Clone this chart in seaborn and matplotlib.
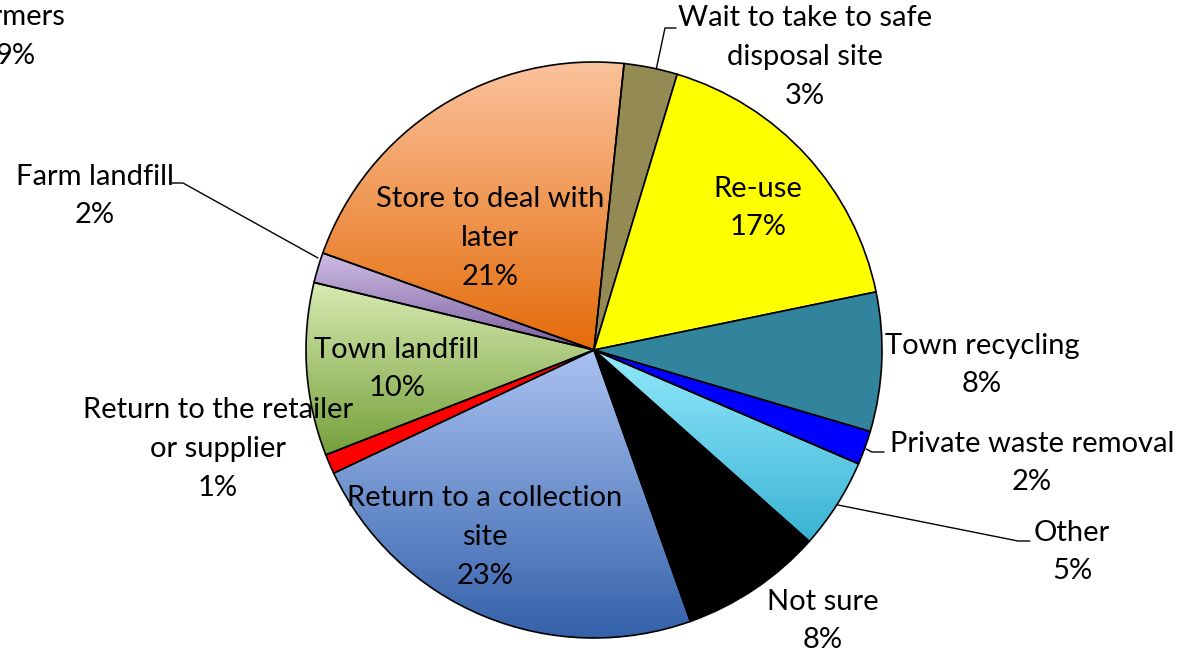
import numpy as np
import matplotlib.pyplot as plt
import seaborn as sns
from matplotlib.colors import LinearSegmentedColormap

sns.set_theme(style="white")
plt.rcParams['font.family'] = ['Lato', 'DejaVu Sans']

# --- data, clockwise from 12 o'clock ---
categories = ["Wait to take to safe\ndisposal site", "Re-use", "Town recycling",
              "Private waste removal", "Other", "Not sure",
              "Return to a collection\nsite", "Return to the retailer\nor supplier",
              "Town landfill", "Farm landfill", "Store to deal with\nlater"]
values = [3.0, 17.1, 7.8, 1.9, 5.1, 8.0, 23.4, 1.1, 9.7, 1.7, 21.2]
cut_label = "Give to other\nfarmers"   # label cut off at the top-left edge
cut_pct = "9%"

# colours: flat fill, or (top, bottom) gradient
fills = ["#948A54", "#FFFF00", "#31849B", "#0000FF", ("#93E9FB", "#3AB3D5"),
         "#000000", ("#AAC2F1", "#3461AA"), "#FF0000", ("#D8EAB2", "#74A03A"),
         ("#CFBDE4", "#7A5E9E"), ("#FBC29C", "#E46C0A")]

W, H = 1177, 653
CX, CY, R = 594, 350, 288
START = 84  # first wedge starts a bit right of 12 o'clock


def py(y):
    # pixel row -> data y (y axis points up)
    return H - y


fig = plt.figure(figsize=(W / 100, H / 100), dpi=100)
ax = fig.add_axes([0, 0, 1, 1])

wedges, _ = ax.pie(values, startangle=START, counterclock=False,
                   center=(CX, py(CY)), radius=R, frame=True,
                   wedgeprops=dict(edgecolor="black", linewidth=1.2))

for w, f in zip(wedges, fills):
    w.set_zorder(3)
    if isinstance(f, tuple):
        w.set_facecolor("none")
        ext = w.get_path().get_extents()
        cmap = LinearSegmentedColormap.from_list("g", [f[1], f[0]])
        grad = np.linspace(0, 1, 256).reshape(-1, 1)
        im = ax.imshow(grad, cmap=cmap, aspect="auto", origin="lower",
                       extent=[ext.x0, ext.x1, ext.y0, ext.y1], zorder=2)
        im.set_clip_path(w)
    else:
        w.set_facecolor(f)

ax.set_xlim(0, W)
ax.set_ylim(0, H)
ax.set_aspect("equal")
ax.axis("off")

pcts = [f"{v:.0f}%" for v in values]

# label positions in pixels (x centre, y centre)
label_pos = {
    0: (805, 57), 1: (758, 208), 2: (982, 365), 3: (1032, 463), 4: (1072, 552),
    5: (823, 621), 6: (485, 537), 7: (218, 449), 8: (397, 369), 9: (95, 196),
    10: (490, 238),
}
fs = 21
ls = 1.6
for i, (x, y) in label_pos.items():
    ax.text(x, py(y), f"{categories[i]}\n{pcts[i]}", ha="center", va="center",
            fontsize=fs, linespacing=ls, color="black", zorder=5)

ax.text(16, py(17), f"{cut_label}\n{cut_pct}", ha="center", va="center",
        fontsize=fs, linespacing=ls, color="black", zorder=5)

# leader lines
leaders = [
    [(655, 75), (665, 28), (676, 28)],
    [(318, 258), (183, 183), (172, 183)],
    [(866, 449), (872, 452), (884, 452)],
    [(838, 505), (1018, 541), (1030, 541)],
]
for pts in leaders:
    xs = [p[0] for p in pts]
    ys = [py(p[1]) for p in pts]
    ax.plot(xs, ys, color="black", linewidth=1.0, zorder=1)

fig.savefig("out.png", dpi=100)
